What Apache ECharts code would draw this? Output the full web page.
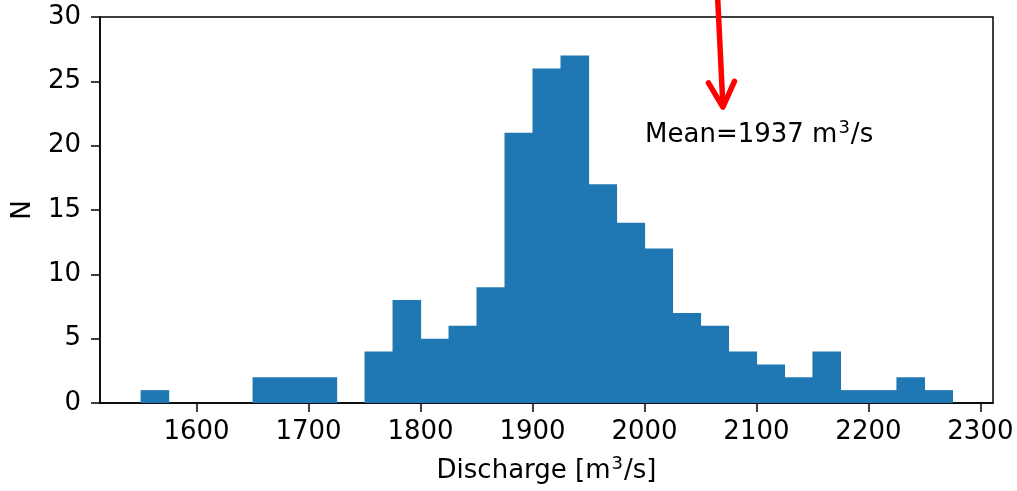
<!DOCTYPE html>
<html>
<head>
<meta charset="utf-8">
<script src="https://cdn.jsdelivr.net/npm/echarts@6/dist/echarts.min.js"></script>
<style>
  html, body { margin: 0; padding: 0; background: #fff; }
  #chart-container { width: 1017px; height: 491px; }
</style>
</head>
<body>
<div id="chart-container"></div>
<script>
'use strict';

// histogram bins (width 25 m3/s) and counts
const binStart = 1550;
const binWidth = 25;
const counts = [1, 0, 0, 0, 2, 2, 2, 0, 4, 8, 5, 6, 9, 21, 26, 27, 17, 14, 12, 7, 6, 4, 3, 2, 4, 1, 1, 2, 1];
const xTicks = [1600, 1700, 1800, 1900, 2000, 2100, 2200, 2300];

// annotation: arrow from (x, y) above the plot down to the tip, label below it
const meanValue = 1937;
const arrowFrom = [2064.6, 31.3];
const arrowTo = [2070, 23];
const labelAt = [2000.5, 20.9];

const font = 'DejaVu Sans';
const fs = 26;
// superscript "3": smaller, lifted by bottom padding
const supRich = { fontFamily: font, fontSize: 18, lineHeight: 18, color: '#000', fill: '#000', verticalAlign: 'bottom', padding: [0, 1, 11, 1] };
const baseRich = { fontFamily: font, fontSize: fs, lineHeight: 29, color: '#000', fill: '#000', verticalAlign: 'bottom' };

const bins = counts.map((c, i) => [binStart + i * binWidth, binStart + (i + 1) * binWidth, c]);

const myChart = echarts.init(document.getElementById('chart-container'), null, { renderer: 'canvas' });

const option = {
    animation: false,
    backgroundColor: '#fff',
    grid: {
        left: 100,
        right: 24,
        top: 17,
        bottom: 88,
        show: true,
        borderColor: '#000',
        borderWidth: 1.5,
        backgroundColor: 'transparent'
    },
    xAxis: {
        type: 'value',
        min: 1513.75,
        max: 2311.25,
        name: '{b|Discharge [m}{sup|3}{b|/s]}',
        nameLocation: 'middle',
        nameGap: 52,
        nameTextStyle: {
            fontFamily: font, fontSize: fs, color: '#000',
            rich: { b: baseRich, sup: supRich }
        },
        splitLine: { show: false },
        axisLine: { lineStyle: { color: '#000', width: 1.5 } },
        axisTick: {
            show: true,
            length: 9,
            customValues: xTicks,
            lineStyle: { color: '#000', width: 1.5 }
        },
        axisLabel: {
            customValues: xTicks,
            formatter: (v) => String(v),
            margin: 16,
            fontFamily: font,
            fontSize: fs,
            color: '#000'
        }
    },
    yAxis: {
        type: 'value',
        min: 0,
        max: 30,
        interval: 5,
        name: 'N',
        nameLocation: 'middle',
        nameGap: 64,
        nameRotate: 90,
        nameTextStyle: { fontFamily: font, fontSize: fs, color: '#000' },
        splitLine: { show: false },
        axisLine: { show: true, lineStyle: { color: '#000', width: 1.5 } },
        axisTick: { show: true, length: 9, lineStyle: { color: '#000', width: 1.5 } },
        axisLabel: { margin: 19, fontFamily: font, fontSize: fs, color: '#000' }
    },
    series: [
        {
            type: 'custom',
            data: bins,
            renderItem: function (params, api) {
                const c = api.value(2);
                if (!c) {
                    return null;
                }
                const p0 = api.coord([api.value(0), c]);
                const p1 = api.coord([api.value(1), 0]);
                return {
                    type: 'rect',
                    shape: { x: p0[0], y: p0[1], width: p1[0] - p0[0] + 0.6, height: p1[1] - p0[1] },
                    style: { fill: '#1f77b4' }
                };
            }
        },
        {
            type: 'custom',
            clip: false,
            silent: true,
            data: [[arrowFrom[0], arrowFrom[1], arrowTo[0], arrowTo[1], labelAt[0], labelAt[1]]],
            renderItem: function (params, api) {
                const a = api.coord([api.value(0), api.value(1)]);
                const b = api.coord([api.value(2), api.value(3)]);
                const t = api.coord([api.value(4), api.value(5)]);
                const dx = b[0] - a[0];
                const dy = b[1] - a[1];
                const len = Math.sqrt(dx * dx + dy * dy);
                const ux = dx / len, uy = dy / len;
                const hl = 25, hw = 13;
                const w1 = [b[0] - ux * hl - uy * hw, b[1] - uy * hl + ux * hw];
                const w2 = [b[0] - ux * hl + uy * hw, b[1] - uy * hl - ux * hw];
                const stroke = { stroke: '#ff0000', lineWidth: 5.5, lineCap: 'round', lineJoin: 'round', fill: null };
                return {
                    type: 'group',
                    children: [
                        {
                            type: 'line',
                            shape: { x1: a[0], y1: a[1] - 20, x2: b[0], y2: b[1] - 2 },
                            style: stroke
                        },
                        {
                            type: 'polyline',
                            shape: { points: [w1, b, w2] },
                            style: stroke
                        },
                        {
                            type: 'text',
                            x: t[0],
                            y: t[1],
                            style: {
                                text: '{b|Mean=' + meanValue + ' m}{sup|3}{b|/s}',
                                fontFamily: font,
                                fontSize: fs,
                                fill: '#000',
                                align: 'left',
                                verticalAlign: 'middle',
                                rich: { b: baseRich, sup: supRich }
                            }
                        }
                    ]
                };
            }
        }
    ]
};

myChart.setOption(option);
window.addEventListener('resize', myChart.resize);
</script>
</body>
</html>
